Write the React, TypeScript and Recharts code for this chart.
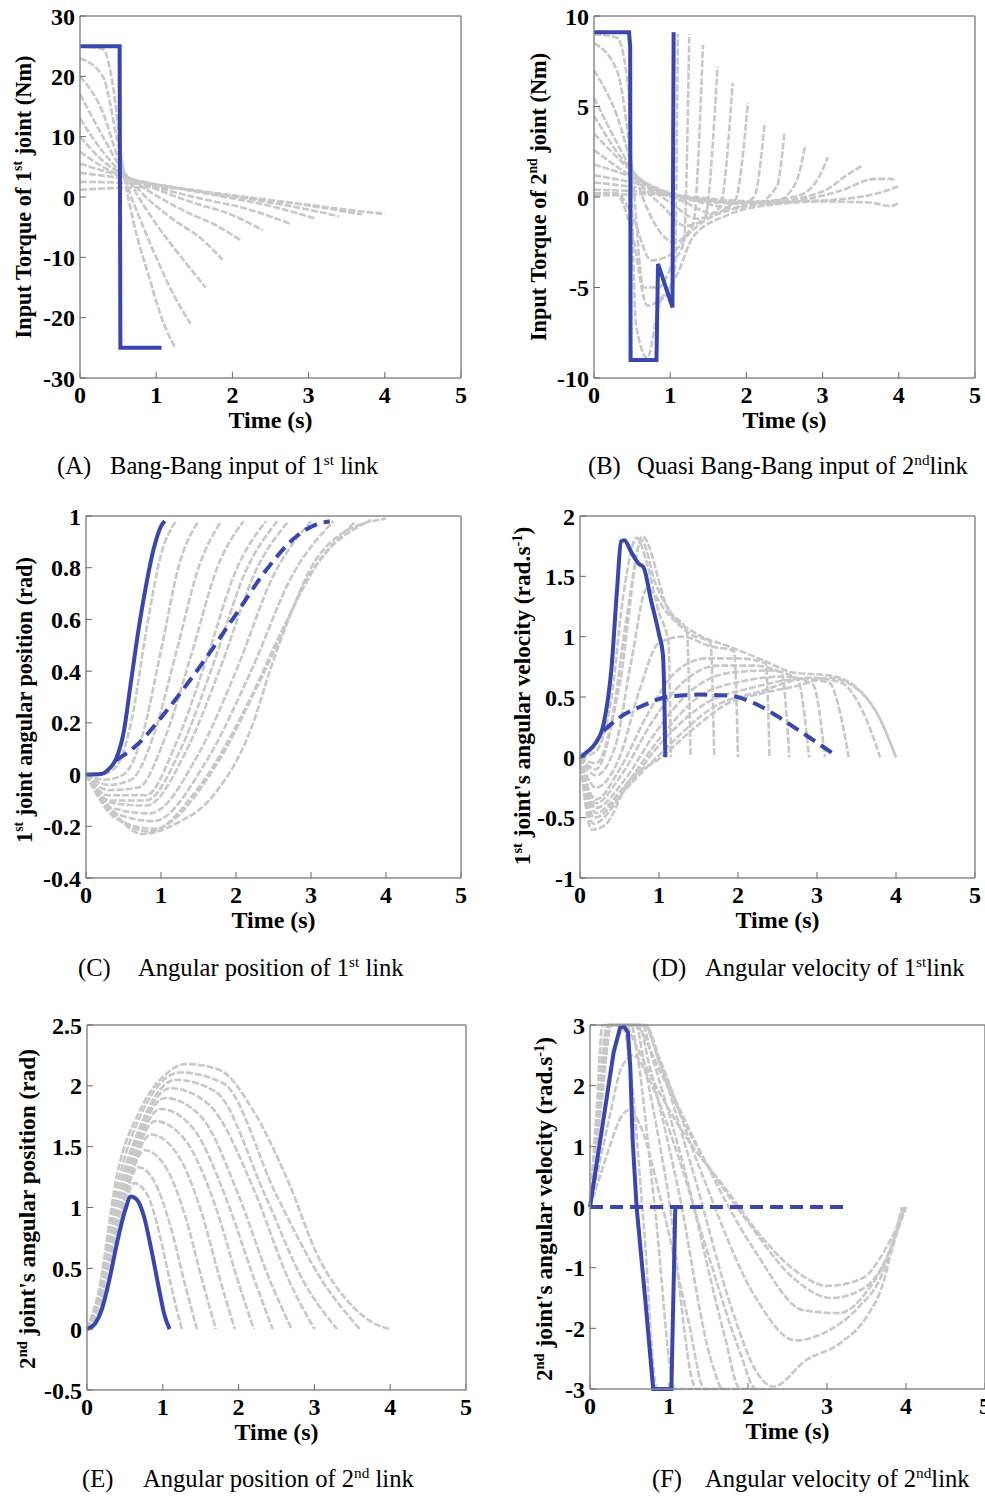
import React from 'react';
import { LineChart, Line, XAxis, YAxis } from 'recharts';

const FONT = '"Liberation Serif", "Times New Roman", serif';
const BLUE = '#3846b0';
const GREY = '#c8c8c8';

const timeTicks = [0, 1, 2, 3, 4, 5];
const torque1Ticks = [-30, -20, -10, 0, 10, 20, 30];
const torque2Ticks = [-10, -5, 0, 5, 10];
const angle1Ticks = [-0.4, -0.2, 0, 0.2, 0.4, 0.6, 0.8, 1];
const velocity1Ticks = [-1, -0.5, 0, 0.5, 1, 1.5, 2];
const angle2Ticks = [-0.5, 0, 0.5, 1, 1.5, 2, 2.5];
const velocity2Ticks = [-3, -2, -1, 0, 1, 2, 3];

// every curve is a list of [time, value] pairs

// (A) torque of joint 1
const torque1Blue = [[0, 25], [0.52, 25], [0.53, -25], [1.07, -25]];
const torque1Grey = [
  [[0, 25], [0.3, 24.5], [0.45, 17], [0.55, 6], [0.7, -4], [0.9, -13], [1.1, -21], [1.25, -25]],
  [[0, 23], [0.3, 20], [0.48, 10], [0.6, 3], [0.8, -4], [1.0, -10], [1.2, -15.5], [1.45, -21]],
  [[0, 20], [0.3, 14], [0.5, 6.5], [0.7, 1.5], [1.0, -4.5], [1.3, -9.5], [1.65, -15]],
  [[0, 17], [0.3, 10], [0.55, 4.5], [0.8, 0.8], [1.2, -3.5], [1.6, -7], [1.87, -10.4]],
  [[0, 13], [0.3, 7.5], [0.55, 4], [0.9, 1], [1.4, -2.5], [1.8, -4.8], [2.1, -7.1]],
  [[0, 10], [0.3, 6], [0.6, 3.5], [1.0, 1.3], [1.5, -1], [2.0, -3], [2.4, -5.5]],
  [[0, 7.5], [0.3, 5], [0.6, 3.2], [1.0, 1.6], [1.6, -0.3], [2.2, -2], [2.75, -4.4]],
  [[0, 5.5], [0.4, 4], [0.8, 2.6], [1.3, 1.4], [1.9, 0], [2.5, -1.5], [3.1, -3.6]],
  [[0, 4], [0.5, 3.2], [1.0, 2.1], [1.6, 0.9], [2.2, -0.3], [2.8, -1.6], [3.4, -3.2]],
  [[0, 2.5], [0.5, 2.4], [1.0, 1.9], [1.8, 0.6], [2.6, -0.7], [3.2, -1.8], [3.7, -2.9]],
  [[0, 1.2], [0.5, 1.5], [1.0, 1.6], [2.0, 0.2], [3.0, -1.3], [3.5, -2.1], [4.0, -2.8]],
];

// (B) torque of joint 2
const torque2Blue = [[0, 9.1], [0.46, 9.1], [0.475, 8.3], [0.48, -9], [0.82, -9], [0.84, -3.7], [1.03, -6.1], [1.045, 9.1]];
const torque2Grey = [
  [[0, 9], [0.3, 8.8], [0.45, 6], [0.55, -7], [0.7, -8.9], [0.85, -6], [1.0, -5], [1.06, -4], [1.1, 9]],
  [[0, 8.5], [0.3, 7], [0.5, 1.5], [0.65, -5], [0.85, -5], [1.05, -3.5], [1.18, -2.5], [1.25, 9]],
  [[0, 7], [0.3, 4.5], [0.55, 1], [0.8, -1.5], [1.05, -2.5], [1.3, -1.5], [1.43, 8.4]],
  [[0, 5.5], [0.3, 3], [0.6, 0.8], [0.9, -0.5], [1.2, -1.6], [1.45, -1.2], [1.62, 7.2]],
  [[0, 4.5], [0.35, 2.2], [0.7, 0.6], [1.0, -0.3], [1.35, -1.2], [1.65, -0.6], [1.82, 6.3]],
  [[0, 3.5], [0.4, 1.8], [0.8, 0.4], [1.2, -0.3], [1.55, -0.9], [1.85, -0.2], [2.02, 5.2]],
  [[0, 2.6], [0.4, 1.4], [0.9, 0.3], [1.4, -0.3], [1.8, -0.6], [2.1, 0], [2.24, 4.1]],
  [[0, 1.8], [0.5, 1.1], [1.0, 0.2], [1.6, -0.3], [2.1, -0.4], [2.4, 0.6], [2.5, 3.6]],
  [[0, 1.2], [0.5, 0.8], [1.1, 0.1], [1.8, -0.3], [2.4, -0.2], [2.65, 0.8], [2.77, 2.8]],
  [[0, 0.8], [0.6, 0.5], [1.2, 0], [2.0, -0.3], [2.7, 0.1], [2.95, 1.1], [3.07, 2.2]],
  [[0, 0.4], [0.6, 0.3], [1.3, 0], [2.2, -0.3], [3.0, 0.3], [3.35, 1.3], [3.51, 1.7]],
  [[0, 0.1], [0.7, 0.15], [1.5, -0.1], [2.4, -0.3], [3.2, 0.3], [3.7, 1.0], [3.9, 1.0], [3.95, 0.85]],
  [[0, 0.1], [0.3, 0.1], [0.5, -2], [0.7, -6], [0.9, -5.5], [1.1, -4.2], [1.3, -2.2], [1.75, -1.0], [2.2, -0.5], [3.0, -0.25], [3.6, -0.3], [3.9, -0.5], [4.0, -0.3]],
  [[0, 0.2], [0.3, 0.2], [0.5, -1], [0.75, -3.5], [1.0, -3.2], [1.3, -1.8], [1.8, -0.7], [2.5, -0.3], [3.3, -0.1], [3.8, 0.3], [4.0, 0.6]],
];

// (C) angular position of joint 1
const angle1Blue = [[0, 0], [0.2, 0.002], [0.3, 0.02], [0.4, 0.06], [0.5, 0.16], [0.6, 0.36], [0.7, 0.56], [0.8, 0.73], [0.9, 0.87], [1.0, 0.96], [1.05, 0.98]];
const angle1BlueDash = [[0.4, 0.055], [0.7, 0.12], [1.0, 0.22], [1.5, 0.41], [2.0, 0.62], [2.4, 0.79], [2.8, 0.92], [3.05, 0.965], [3.25, 0.98]];
const angle1Grey = [
  [[0, 0], [0.2, 0], [0.4, 0.03], [0.6, 0.2], [0.8, 0.55], [1.0, 0.85], [1.2, 0.98]],
  [[0, 0], [0.25, -0.02], [0.5, 0], [0.75, 0.15], [1.0, 0.48], [1.25, 0.82], [1.5, 0.98]],
  [[0, 0], [0.3, -0.04], [0.6, -0.02], [0.9, 0.15], [1.2, 0.47], [1.5, 0.8], [1.8, 0.98]],
  [[0, 0], [0.3, -0.06], [0.7, -0.05], [1.05, 0.14], [1.4, 0.46], [1.75, 0.8], [2.1, 0.98]],
  [[0, 0], [0.3, -0.08], [0.8, -0.08], [1.2, 0.12], [1.6, 0.44], [2.0, 0.79], [2.4, 0.98]],
  [[0, 0], [0.32, -0.1], [0.8, -0.1], [1.28, 0.11], [1.7, 0.43], [2.12, 0.78], [2.55, 0.98]],
  [[0, 0], [0.35, -0.11], [0.8, -0.12], [1.35, 0.1], [1.8, 0.42], [2.25, 0.78], [2.7, 0.98]],
  [[0, 0], [0.35, -0.13], [0.85, -0.15], [1.5, 0.08], [2.0, 0.4], [2.5, 0.77], [3.0, 0.98]],
  [[0, 0], [0.4, -0.15], [0.9, -0.18], [1.6, 0.05], [2.2, 0.4], [2.75, 0.77], [3.3, 0.98]],
  [[0, 0], [0.4, -0.17], [0.9, -0.21], [1.7, 0.02], [2.35, 0.38], [3.0, 0.78], [3.6, 0.98]],
  [[0, 0], [0.35, -0.15], [0.85, -0.22], [1.5, -0.05], [2.2, 0.3], [2.6, 0.55], [3.1, 0.82], [3.8, 0.985]],
  [[0, 0], [0.3, -0.12], [0.75, -0.23], [1.2, -0.19], [1.7, -0.08], [2.23, 0.2], [2.45, 0.4], [2.7, 0.6], [3.0, 0.8], [3.4, 0.93], [4.0, 0.99]],
];

// (D) angular velocity of joint 1
const velocity1Blue = [[0, 0], [0.1, 0.05], [0.2, 0.12], [0.3, 0.28], [0.4, 0.75], [0.47, 1.4], [0.52, 1.79], [0.56, 1.8], [0.65, 1.7], [0.75, 1.6], [0.8, 1.58], [0.9, 1.3], [1.0, 1.02], [1.05, 0.85], [1.07, 0.4], [1.08, 0]];
const velocity1BlueDash = [[0.3, 0.22], [0.5, 0.33], [0.8, 0.43], [1.1, 0.5], [1.5, 0.52], [1.9, 0.51], [2.2, 0.45], [2.5, 0.34], [2.8, 0.21], [3.05, 0.1], [3.25, 0.01]];
const velocity1Grey = [
  [[0, 0], [0.2, 0.05], [0.4, 0.5], [0.55, 1.35], [0.72, 1.82], [0.85, 1.6], [1.0, 1.2], [1.12, 0.95], [1.15, 0]],
  [[0, 0], [0.2, -0.05], [0.4, 0.3], [0.6, 1.2], [0.78, 1.8], [0.95, 1.45], [1.15, 1.2], [1.35, 1.05], [1.4, 0]],
  [[0, 0], [0.2, -0.15], [0.45, 0.1], [0.65, 0.8], [0.85, 1.4], [1.1, 1.2], [1.4, 1.02], [1.65, 0.95], [1.7, 0]],
  [[0, 0], [0.2, -0.25], [0.5, 0], [0.75, 0.55], [1.0, 0.95], [1.3, 1.0], [1.65, 0.92], [1.95, 0.88], [2.0, 0]],
  [[0, 0], [0.2, -0.35], [0.5, -0.1], [0.85, 0.35], [1.2, 0.7], [1.6, 0.82], [2.0, 0.82], [2.35, 0.78], [2.4, 0]],
  [[0, 0], [0.2, -0.38], [0.52, -0.15], [0.9, 0.28], [1.3, 0.62], [1.75, 0.76], [2.2, 0.76], [2.55, 0.7], [2.65, 0]],
  [[0, 0], [0.2, -0.42], [0.55, -0.2], [0.95, 0.2], [1.4, 0.55], [1.9, 0.7], [2.4, 0.72], [2.75, 0.65], [2.9, 0]],
  [[0, 0], [0.2, -0.46], [0.55, -0.25], [1.0, 0.15], [1.5, 0.5], [2.05, 0.63], [2.6, 0.67], [2.95, 0.6], [3.1, 0]],
  [[0, 0], [0.18, -0.5], [0.55, -0.28], [1.0, 0.1], [1.6, 0.45], [2.2, 0.58], [2.8, 0.65], [3.15, 0.62], [3.3, 0.35], [3.4, 0]],
  [[0, 0], [0.17, -0.55], [0.6, -0.25], [1.05, 0.05], [1.7, 0.42], [2.3, 0.55], [2.9, 0.66], [3.3, 0.62], [3.6, 0.35], [3.8, 0]],
  [[0, 0], [0.15, -0.6], [0.32, -0.56], [0.61, -0.21], [1.03, 0], [1.46, 0.25], [1.88, 0.45], [2.3, 0.53], [2.8, 0.6], [3.14, 0.66], [3.48, 0.58], [3.78, 0.34], [4.0, 0]],
  [[0, 0], [0.2, -0.1], [0.5, 0.6], [0.79, 1.83], [1.12, 1.22], [1.46, 1.03], [1.88, 0.92], [2.3, 0.81], [2.72, 0.7], [3.14, 0.68], [3.48, 0.59], [3.78, 0.34], [4.0, 0]],
];

// (E) angular position of joint 2
const angle2Blue = [[0, 0], [0.1, 0.04], [0.2, 0.17], [0.3, 0.42], [0.4, 0.72], [0.5, 0.97], [0.58, 1.09], [0.65, 1.07], [0.75, 0.93], [0.85, 0.65], [0.95, 0.33], [1.02, 0.12], [1.09, 0]];
const angle2Grey = [
  [[0, 0], [0.15, 0.12], [0.3, 0.45], [0.45, 0.88], [0.62, 1.2], [0.8, 1.1], [0.95, 0.8], [1.1, 0.38], [1.25, 0]],
  [[0, 0], [0.15, 0.14], [0.3, 0.5], [0.45, 0.95], [0.68, 1.33], [0.9, 1.2], [1.1, 0.85], [1.3, 0.35], [1.45, 0]],
  [[0, 0], [0.15, 0.16], [0.3, 0.55], [0.5, 1.08], [0.76, 1.47], [1.05, 1.32], [1.3, 0.92], [1.52, 0.4], [1.7, 0]],
  [[0, 0], [0.15, 0.18], [0.32, 0.63], [0.55, 1.2], [0.84, 1.6], [1.2, 1.43], [1.5, 0.98], [1.75, 0.42], [1.95, 0]],
  [[0, 0], [0.15, 0.2], [0.33, 0.7], [0.58, 1.3], [0.9, 1.71], [1.3, 1.55], [1.7, 1.0], [1.98, 0.42], [2.2, 0]],
  [[0, 0], [0.15, 0.21], [0.34, 0.77], [0.6, 1.38], [0.97, 1.81], [1.4, 1.65], [1.85, 1.05], [2.2, 0.42], [2.45, 0]],
  [[0, 0], [0.15, 0.23], [0.35, 0.85], [0.62, 1.46], [1.03, 1.9], [1.5, 1.75], [2.0, 1.1], [2.4, 0.42], [2.7, 0]],
  [[0, 0], [0.15, 0.25], [0.36, 0.93], [0.65, 1.55], [1.1, 1.98], [1.6, 1.85], [2.2, 1.15], [2.65, 0.42], [3.0, 0]],
  [[0, 0], [0.15, 0.26], [0.37, 1.02], [0.67, 1.62], [1.17, 2.05], [1.7, 1.95], [2.35, 1.1], [2.85, 0.4], [3.3, 0]],
  [[0, 0], [0.15, 0.28], [0.38, 1.12], [0.68, 1.72], [1.23, 2.11], [1.8, 2.02], [2.5, 1.1], [3.1, 0.4], [3.6, 0]],
  [[0, 0], [0.15, 0.3], [0.39, 1.25], [0.7, 1.8], [1.05, 2.1], [1.31, 2.18], [1.75, 2.13], [2.19, 1.8], [2.63, 1.25], [3.07, 0.57], [3.47, 0.21], [3.78, 0.05], [4.0, 0]],
];

// (F) angular velocity of joint 2 (grey values as seen, cut at the axis limits)
const velocity2Blue = [[0, 0], [0.1, 0.85], [0.2, 1.7], [0.3, 2.55], [0.38, 2.95], [0.43, 2.98], [0.48, 2.88], [0.51, 2.3], [0.54, 1.1], [0.59, 0], [0.7, -1.53], [0.8, -3], [1.03, -3], [1.08, 0]];
const velocity2BlueDash = [[0, 0], [3.27, 0]];
const velocity2Grey = [
  [[0, 0], [0.1, 1.6], [0.2, 2.9], [0.28, 3], [0.42, 3], [0.5, 2.4], [0.68, -0.3], [0.85, -3], [1.1, -3]],
  [[0, 0], [0.12, 1.7], [0.24, 3], [0.52, 3], [0.6, 2.5], [0.82, 0], [1.08, -3], [1.3, -3]],
  [[0, 0], [0.15, 1.8], [0.27, 3], [0.58, 3], [0.68, 2.4], [0.98, 0.3], [1.35, -3], [1.6, -3]],
  [[0, 0], [0.08, 1.5], [0.16, 3], [0.62, 3], [0.74, 2.4], [1.1, 0.4], [1.55, -2.6], [1.68, -3], [1.9, -3]],
  [[0, 0], [0.15, 1.9], [0.26, 3], [0.66, 3], [0.78, 2.5], [1.2, 0.6], [1.7, -2.1], [1.9, -3], [2.15, -3]],
  [[0, 0], [0.1, 0.4], [0.25, 1.0], [0.4, 1.5], [0.5, 1.6], [0.65, 1.3], [0.9, 0.1], [1.25, -1.9], [1.45, -3], [1.7, -3]],
  [[0, 0], [0.1, 0.6], [0.25, 1.5], [0.4, 2.3], [0.55, 2.5], [0.75, 2.1], [1.1, 0.9], [1.5, -0.8], [1.9, -2.4], [2.1, -3], [2.3, -3]],
  [[0, 0], [0.15, 1.9], [0.25, 3], [0.7, 3], [0.85, 2.5], [1.3, 0.6], [1.8, -1.7], [2.1, -2.7], [2.32, -2.96], [2.74, -2.52], [3.16, -2.25], [3.5, -1.81], [3.71, -1.26], [3.82, -0.71], [4.0, 0]],
  [[0, 0], [0.1, 1.4], [0.22, 3], [0.7, 3], [0.88, 2.45], [1.4, 0.6], [2.1, -1.5], [2.6, -2.2], [3.0, -2.05], [3.4, -1.65], [3.7, -1.1], [3.95, 0]],
  [[0, 0], [0.15, 1.8], [0.27, 3], [0.68, 3], [0.9, 2.3], [1.4, 0.9], [2.1, -0.75], [2.7, -1.7], [3.15, -1.75], [3.5, -1.4], [3.8, -0.7], [3.97, 0]],
  [[0, 0], [0.2, 1.7], [0.35, 2.8], [0.55, 3], [0.9, 2.2], [1.35, 1.0], [2.0, -0.25], [2.6, -1.2], [3.05, -1.5], [3.45, -1.35], [3.8, -0.7], [3.98, 0]],
  [[0, 0], [0.15, 1.3], [0.3, 2.6], [0.45, 3], [0.55, 2.75], [0.84, 1.98], [1.27, 1.05], [1.69, 0.35], [2.17, -0.49], [2.59, -1.04], [3.01, -1.3], [3.44, -1.18], [3.78, -0.6], [4.0, 0]],
];

const toPoints = (pairs: number[][]) => pairs.map(([t, v]) => ({ t, v }));

const YW = 80;
const XH = 60;
const MT = 15;
const MR = 28;
const MB = 4;

const tickFont = { fill: '#000', fontSize: 24, fontWeight: 700, fontFamily: FONT };
const axisLine = { stroke: '#8a8a8a', strokeWidth: 1.5 };
const tickLine = { stroke: '#666', strokeWidth: 1 };

type PanelProps = {
  box: number[]; // plot left, top, right, bottom on the page
  yTicks: number[];
  grey: number[][][];
  blue: number[][];
  blueDash?: number[][];
  smooth: boolean;
};

const Panel = ({ box, yTicks, grey, blue, blueDash, smooth }: PanelProps) => {
  const [l, t, r, b] = box;
  const width = r - l + YW + 1 + MR;
  const height = b - t + MT + 1 + XH + MB;
  const yDomain = [yTicks[0], yTicks[yTicks.length - 1]];
  return (
    <div style={{ position: 'absolute', left: l - YW, top: t - MT - 1 }}>
      <LineChart width={width} height={height} margin={{ top: MT, right: MR, bottom: MB, left: 0 }}>
        <XAxis
          dataKey="t" type="number" domain={[0, 5]} ticks={timeTicks} interval={0} height={XH}
          axisLine={axisLine} tickLine={tickLine} tickSize={-6} tickMargin={14} tick={tickFont}
          label={{ value: 'Time (s)', position: 'insideBottom', offset: 10, ...tickFont }}
        />
        <XAxis
          xAxisId="top" orientation="top" type="number" domain={[0, 5]} ticks={timeTicks} interval={0}
          height={1} allowDataOverflow axisLine={axisLine} tickLine={tickLine} tickSize={-6} tick={false}
        />
        <YAxis
          type="number" domain={yDomain} ticks={yTicks} interval={0} width={YW}
          axisLine={axisLine} tickLine={tickLine} tickSize={-6} tickMargin={11} tick={tickFont}
        />
        <YAxis
          yAxisId="right" orientation="right" type="number" domain={yDomain} ticks={yTicks} interval={0}
          width={1} allowDataOverflow axisLine={axisLine} tickLine={tickLine} tickSize={-6} tick={false}
        />
        {grey.map((c, i) => (
          <Line
            key={'g' + i} data={toPoints(c)} dataKey="v" type="monotone" stroke={GREY} strokeWidth={2.6}
            strokeDasharray="7 2" dot={false} activeDot={false} isAnimationActive={false}
          />
        ))}
        {blueDash && (
          <Line
            data={toPoints(blueDash)} dataKey="v" type="monotone" stroke={BLUE} strokeWidth={4}
            strokeDasharray="13 7" dot={false} activeDot={false} isAnimationActive={false}
          />
        )}
        <Line
          data={toPoints(blue)} dataKey="v" type={smooth ? 'monotone' : 'linear'} stroke={BLUE} strokeWidth={4}
          dot={false} activeDot={false} isAnimationActive={false}
        />
      </LineChart>
    </div>
  );
};

const Sup = ({ children }: { children: React.ReactNode }) => (
  <sup style={{ fontSize: '0.62em', lineHeight: 0, verticalAlign: 'super' }}>{children}</sup>
);

const YLabel = ({ x, y, size, children }: { x: number; y: number; size: number; children: React.ReactNode }) => (
  <div
    style={{
      position: 'absolute', left: x, top: y, transform: 'translate(-50%, -50%) rotate(-90deg)',
      whiteSpace: 'nowrap', fontSize: size, fontWeight: 700, lineHeight: 1,
    }}
  >
    {children}
  </div>
);

const Caption = ({ x, textX, y, tag, children }: { x: number; textX: number; y: number; tag: string; children: React.ReactNode }) => (
  <>
    <div style={{ position: 'absolute', left: x, top: y, whiteSpace: 'pre', fontSize: 24.6, lineHeight: 1 }}>{tag}</div>
    <div style={{ position: 'absolute', left: textX, top: y, whiteSpace: 'pre', fontSize: 24.6, lineHeight: 1 }}>{children}</div>
  </>
);

export default function App() {
  return (
    <div
      style={{
        position: 'absolute', left: 0, top: 0, width: 985, height: 1497, overflow: 'hidden',
        background: '#fff', fontFamily: FONT, color: '#000',
      }}
    >
      <Panel box={[80, 16, 461, 378]} yTicks={torque1Ticks} grey={torque1Grey} blue={torque1Blue} smooth={false} />
      <Panel box={[594, 16, 975, 378]} yTicks={torque2Ticks} grey={torque2Grey} blue={torque2Blue} smooth={false} />
      <Panel box={[86, 516, 461, 878]} yTicks={angle1Ticks} grey={angle1Grey} blue={angle1Blue} blueDash={angle1BlueDash} smooth />
      <Panel box={[580, 516, 975, 878]} yTicks={velocity1Ticks} grey={velocity1Grey} blue={velocity1Blue} blueDash={velocity1BlueDash} smooth />
      <Panel box={[87, 1025, 466, 1390]} yTicks={angle2Ticks} grey={angle2Grey} blue={angle2Blue} smooth />
      <Panel box={[590, 1025, 985, 1389]} yTicks={velocity2Ticks} grey={velocity2Grey} blue={velocity2Blue} blueDash={velocity2BlueDash} smooth={false} />

      <YLabel x={24} y={197} size={22.3}>Input Torque of 1<Sup>st</Sup> joint (Nm)</YLabel>
      <YLabel x={539} y={197} size={22.3}>Input Torque of 2<Sup>nd</Sup> joint (Nm)</YLabel>
      <YLabel x={25} y={700} size={22.3}>1<Sup>st</Sup> joint angular position (rad)</YLabel>
      <YLabel x={523} y={696} size={23.3}>1<Sup>st</Sup> joint's angular velocity (rad.s<Sup>-1</Sup>)</YLabel>
      <YLabel x={28} y={1209} size={23.3}>2<Sup>nd</Sup> joint's angular position (rad)</YLabel>
      <YLabel x={545} y={1209} size={23.3}>2<Sup>nd</Sup> joint's angular velocity (rad.s<Sup>-1</Sup>)</YLabel>

      <Caption x={57} textX={110} y={454} tag="(A)">Bang-Bang input of 1<Sup>st</Sup> link</Caption>
      <Caption x={588} textX={637} y={454} tag="(B)">Quasi Bang-Bang input of 2<Sup>nd</Sup>link</Caption>
      <Caption x={78} textX={138} y={956} tag="(C)">Angular position of 1<Sup>st</Sup> link</Caption>
      <Caption x={652} textX={705} y={956} tag="(D)">Angular velocity of 1<Sup>st</Sup>link</Caption>
      <Caption x={82} textX={143} y={1467} tag="(E)">Angular position of 2<Sup>nd</Sup> link</Caption>
      <Caption x={652} textX={705} y={1467} tag="(F)">Angular velocity of 2<Sup>nd</Sup>link</Caption>
    </div>
  );
}
